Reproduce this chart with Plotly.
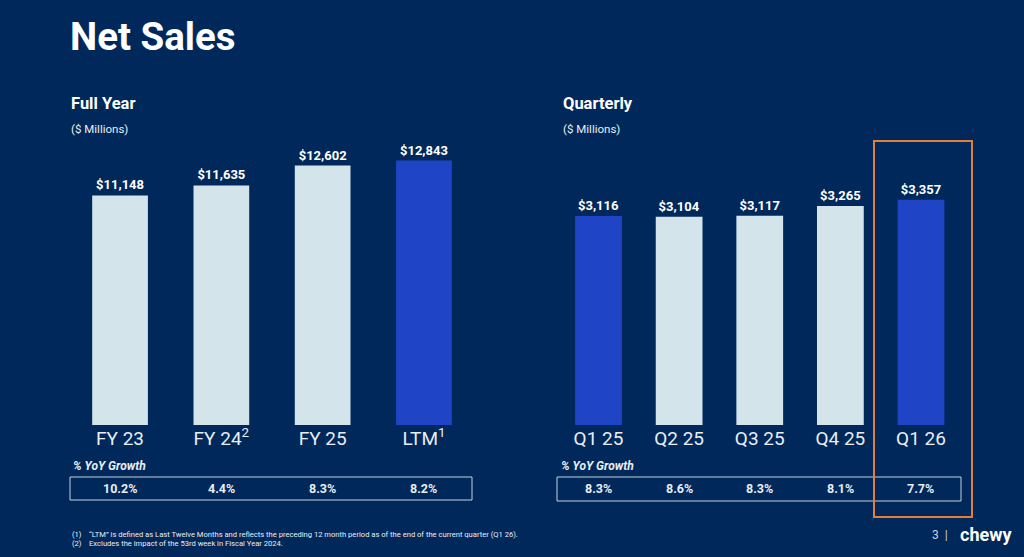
import plotly.graph_objects as go

# ---- data ----
fy_labels = ["FY 23", "FY 24<sup>2</sup>", "FY 25", "LTM<sup>1</sup>"]
fy_sales = [11148, 11635, 12602, 12843]
fy_growth = ["10.2%", "4.4%", "8.3%", "8.2%"]

q_labels = ["Q1 25", "Q2 25", "Q3 25", "Q4 25", "Q1 26"]
q_sales = [3116, 3104, 3117, 3265, 3357]
q_growth = ["8.3%", "8.6%", "8.3%", "8.1%", "7.7%"]

# ---- styles ----
BG = "#00285A"
LIGHT = "#D3E5EA"
BLUE = "#1F45C6"
TXT = "#E8EEF2"
fy_colors = [LIGHT, LIGHT, LIGHT, BLUE]
q_colors = [BLUE, LIGHT, LIGHT, LIGHT, BLUE]

W, H = 1024, 557
def px(x): return x / W
def py(y): return 1 - y / H

ybase = py(425)
ytop = py(100)

fig = go.Figure()
fig.add_trace(go.Bar(
    x=fy_labels, y=fy_sales, marker=dict(color=fy_colors, line=dict(width=0)),
    width=0.55, text=[f"<b>${v:,}</b>" for v in fy_sales], textposition="outside",
    textfont=dict(family="Roboto", size=13, color="white"), cliponaxis=False,
    xaxis="x", yaxis="y", hoverinfo="skip"))
fig.add_trace(go.Bar(
    x=q_labels, y=q_sales, marker=dict(color=q_colors, line=dict(width=0)),
    width=0.58, text=[f"<b>${v:,}</b>" for v in q_sales], textposition="outside",
    textfont=dict(family="Roboto", size=13, color="white"), cliponaxis=False,
    xaxis="x2", yaxis="y2", hoverinfo="skip"))

axis_common = dict(showgrid=False, zeroline=False, showline=False, ticks="",
                   tickfont=dict(family="Roboto", size=19, color=TXT))
fig.update_layout(
    width=W, height=H, margin=dict(l=0, r=0, t=0, b=0),
    paper_bgcolor=BG, plot_bgcolor=BG, showlegend=False,
    font=dict(family="Roboto", color=TXT),
    xaxis=dict(domain=[px(69.4), px(474.6)], anchor="y", **axis_common),
    yaxis=dict(domain=[ybase, ytop], range=[0, 15784], visible=False, anchor="x"),
    xaxis2=dict(domain=[px(558.2), px(961.3)], anchor="y2", **axis_common),
    yaxis2=dict(domain=[ybase, ytop], range=[0, 4843], visible=False, anchor="x2"),
    uniformtext=dict(mode=False),
)

ann = []
def A(x, y, text, size, bold=False, italic=False, color=TXT, xanchor="left", xref="paper", **kw):
    t = text
    if bold: t = f"<b>{t}</b>"
    if italic: t = f"<i>{t}</i>"
    ann.append(dict(x=x, y=y, xref=xref, yref="paper", text=t, showarrow=False,
                    xanchor=xanchor, yanchor="middle",
                    font=dict(family="Roboto", size=size, color=color), **kw))

A(px(68), py(36), "Net Sales", 38.5, bold=True, color="white")
A(px(69), py(104), "Full Year", 16.5, bold=True, color="white")
A(px(69), py(129), "($ Millions)", 11.5)
A(px(561), py(104), "Quarterly", 16.5, bold=True, color="white")
A(px(561), py(129), "($ Millions)", 11.5)
A(px(71), py(466), "% YoY Growth", 12, bold=True, italic=True)
A(px(559), py(466), "% YoY Growth", 12, bold=True, italic=True)

for lab, g in zip(fy_labels, fy_growth):
    A(lab, py(489), g, 12.5, bold=True, xanchor="center", xref="x")
for lab, g in zip(q_labels, q_growth):
    A(lab, py(489), g, 12.5, bold=True, xanchor="center", xref="x2")

A(px(70), py(534), "(1)&nbsp;&nbsp;&nbsp;&nbsp;“LTM” is defined as Last Twelve Months and reflects the preceding 12 month period as of the end of the current quarter (Q1 26).", 7.6)
A(px(70), py(543), "(2)&nbsp;&nbsp;&nbsp;&nbsp;Excludes the impact of the 53rd week in Fiscal Year 2024.", 7.6)

A(px(950), py(535), "3&nbsp;&nbsp;|", 12, color="#C9D3DC", xanchor="right")
A(px(958), py(534), "<b>chewy</b>", 18, color="white")

fig.update_layout(annotations=ann)

shapes = [
    dict(type="rect", xref="paper", yref="paper", x0=px(70), x1=px(472), y0=py(500), y1=py(477),
         line=dict(color="#C5D1DA", width=1)),
    dict(type="rect", xref="paper", yref="paper", x0=px(557), x1=px(961), y0=py(501), y1=py(477),
         line=dict(color="#C5D1DA", width=1)),
    dict(type="rect", xref="paper", yref="paper", x0=px(874), x1=px(972), y0=py(517), y1=py(141),
         line=dict(color="#E0813A", width=2)),
]
fig.update_layout(shapes=shapes)

fig.write_html("out.html")
